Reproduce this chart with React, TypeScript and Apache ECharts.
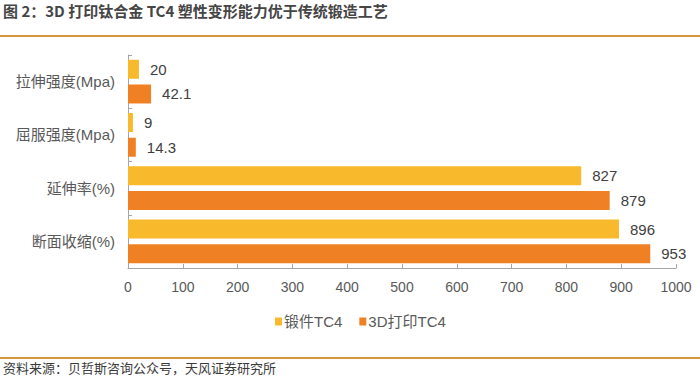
import React, { useEffect, useRef } from "react";
import * as echarts from "echarts";

const categories = ["拉伸强度(Mpa)", "屈服强度(Mpa)", "延伸率(%)", "断面收缩(%)"];
const forgedValues = [20, 9, 827, 896];
const printedValues = [42.1, 14.3, 879, 953];
const seriesNames = ["锻件TC4", "3D打印TC4"];
const titleText = "图 2：3D 打印钛合金 TC4 塑性变形能力优于传统锻造工艺";
const sourceText = "资料来源：贝哲斯咨询公众号，天风证券研究所";

const FONT = "'Liberation Sans', Arial, 'Noto Sans CJK SC', sans-serif";
const CJK = "'Noto Sans CJK SC', sans-serif";

export default function App() {
  const ref = useRef<HTMLDivElement>(null);
  useEffect(() => {
    if (!ref.current) return;
    const chart = echarts.init(ref.current, undefined, { renderer: "svg" });
    const labelStyle = {
      show: true,
      position: "right" as const,
      distance: 11,
      color: "#404040",
      fontSize: 15,
      fontFamily: FONT,
    };
    chart.setOption({
      animation: false,
      backgroundColor: "#ffffff",
      textStyle: { fontFamily: FONT },
      graphic: [
        {
          type: "text",
          left: 3,
          top: 3,
          style: { text: titleText, fill: "#454545", font: `bold 15px ${CJK}` },
        },
        {
          type: "rect",
          shape: { x: 0, y: 35, width: 700, height: 2 },
          style: { fill: "#D9963A" },
        },
        {
          type: "rect",
          shape: { x: 0, y: 357, width: 700, height: 2 },
          style: { fill: "#D9963A" },
        },
        {
          type: "text",
          left: 3,
          top: 361,
          style: { text: sourceText, fill: "#3a3a3a", font: `13px ${CJK}` },
        },
      ],
      legend: {
        data: seriesNames,
        left: 275,
        top: 314,
        padding: 0,
        itemWidth: 7,
        itemHeight: 8,
        itemGap: 17,
        icon: "rect",
        textStyle: { color: "#595959", fontSize: 15, fontFamily: FONT, padding: [0, 0, 0, -3] },
      },
      grid: { left: 128, right: 24, top: 55, bottom: 111, containLabel: false },
      xAxis: {
        type: "value",
        min: 0,
        max: 1000,
        interval: 100,
        splitLine: { show: false },
        axisLine: { show: true, lineStyle: { color: "#A6A6A6" } },
        axisTick: { show: true, inside: true, length: 4, lineStyle: { color: "#A6A6A6" } },
        axisLabel: {
          color: "#595959",
          fontSize: 14,
          margin: 12,
          fontFamily: FONT,
          formatter: (v: number) => String(v),
        },
      },
      yAxis: {
        type: "category",
        data: categories,
        inverse: true,
        axisLine: { show: true, lineStyle: { color: "#A6A6A6" } },
        axisTick: { show: true, inside: true, length: 4, lineStyle: { color: "#A6A6A6" } },
        axisLabel: { color: "#595959", fontSize: 15, margin: 13, fontFamily: FONT },
      },
      series: [
        {
          name: seriesNames[0],
          type: "bar",
          data: forgedValues,
          barWidth: 19,
          barGap: "30%",
          itemStyle: { color: "#F9B92C" },
          label: labelStyle,
        },
        {
          name: seriesNames[1],
          type: "bar",
          data: printedValues,
          barWidth: 19,
          barGap: "30%",
          itemStyle: { color: "#EF8024" },
          label: labelStyle,
        },
      ],
    });
    return () => chart.dispose();
  }, []);
  return <div ref={ref} style={{ width: 700, height: 379, position: "absolute", left: 0, top: 0 }} />;
}
